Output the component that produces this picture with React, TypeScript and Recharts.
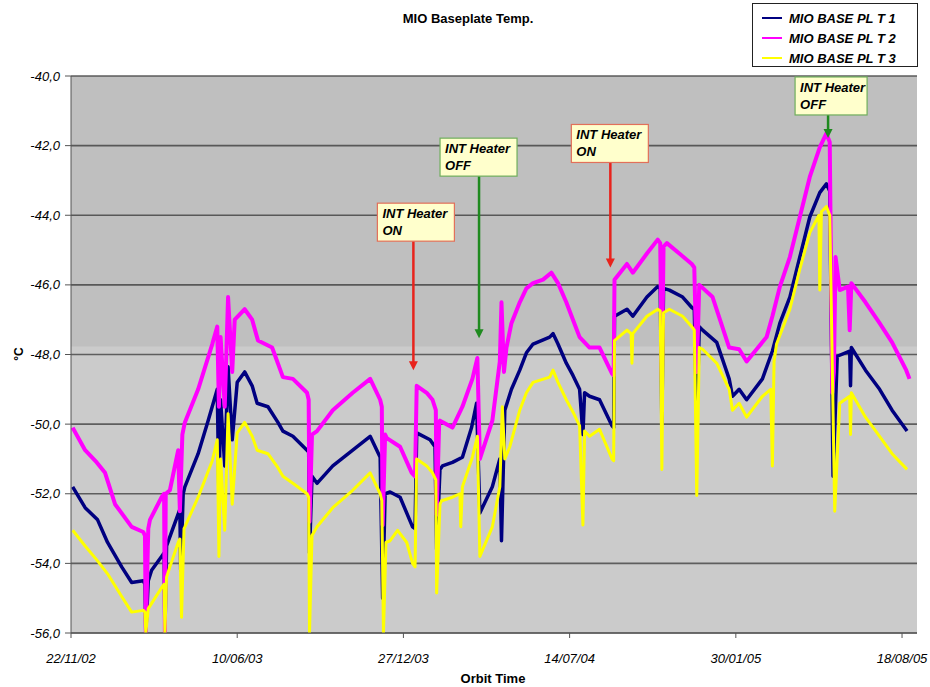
import { LineChart, Line, XAxis, YAxis, CartesianGrid, ReferenceArea, ReferenceDot } from 'recharts'

// days since 22/11/02 on the x axis
const xTicks = [0, 200, 400, 600, 800, 1000]
const xTickLabels = ['22/11/02', '10/06/03', '27/12/03', '14/07/04', '30/01/05', '18/08/05']
const yTicks = [-56, -54, -52, -50, -48, -46, -44, -42, -40]

const seriesNames = ['MIO BASE PL T 1', 'MIO BASE PL T 2', 'MIO BASE PL T 3']
const seriesColors = ['#000080', '#ff00ff', '#ffff00']

// [day, °C]
const t1: [number, number][] = [
  [2, -51.8], [17, -52.4], [32, -52.75], [44, -53.4], [61, -54.1], [73, -54.55], [87, -54.5], [89, -54.6],
  [90, -56], [93, -54.5], [97, -54.2], [109, -53.8], [112, -53.7], [113, -56], [115, -53.5], [121, -53.1],
  [131, -52.45], [132, -54.2], [135, -52.0], [137, -51.8], [153, -50.85], [165, -49.9], [176, -49.0],
  [178, -52.1], [180, -49.3], [185, -51.2], [189, -48.35], [194, -50.45], [200, -48.8], [209, -48.5],
  [218, -48.9], [224, -49.4], [237, -49.5], [249, -49.95], [255, -50.2], [267, -50.35], [284, -50.75],
  [286, -50.8], [287, -53.7], [290, -51.5], [296, -51.7], [315, -51.2], [339, -50.75], [360, -50.35],
  [372, -50.95], [375, -55.0], [378, -52.0], [384, -51.95], [396, -52.1], [411, -52.95], [414, -53.0],
  [416, -50.25], [432, -50.45], [438, -50.65], [440, -53.6], [444, -51.3], [447, -51.2], [459, -51.1],
  [471, -50.95], [482, -50.1], [488, -49.4], [492, -52.55], [507, -51.8], [516, -51.0], [518, -53.35],
  [522, -49.6], [530, -49.0], [540, -48.45], [548, -47.95], [556, -47.7], [576, -47.5], [580, -47.4],
  [586, -47.7], [596, -48.25], [604, -48.6], [612, -49.0],
  [616, -50.3], [618, -49.1], [624, -49.2], [636, -49.3], [651, -50.05], [653, -50.1], [654, -46.9],
  [669, -46.7], [676, -46.9], [693, -46.35], [706, -46.05], [709, -46.1], [711, -50.0], [713, -46.1],
  [720, -46.15], [736, -46.35], [747, -46.65], [750, -46.7], [753, -50.0], [756, -47.2], [760, -47.3],
  [777, -47.65], [792, -48.7], [796, -49.2], [804, -49.0], [813, -49.3], [832, -48.7], [844, -47.9],
  [853, -47.1], [865, -46.35], [877, -45.2], [889, -44.05], [901, -43.35], [909, -43.1], [913, -43.3],
  [917, -51.5], [922, -48.05], [937, -47.9], [938, -48.9], [939, -47.8], [956, -48.45], [973, -49.0],
  [988, -49.6], [1006, -50.2],
]

const t2: [number, number][] = [
  [2, -50.1], [17, -50.75], [31, -51.1], [41, -51.4], [53, -52.3], [73, -52.95], [87, -53.1], [89, -53.2],
  [90, -56], [93, -53.0], [95, -52.75], [109, -52.1], [112, -52.0], [113, -56], [114, -52.0], [119, -51.9],
  [129, -50.75], [131, -52.5], [134, -50.3], [137, -49.95], [153, -49.0], [170, -47.7], [176, -47.2],
  [178, -49.5], [180, -47.5], [185, -49.5], [189, -46.35], [194, -48.5], [197, -47.0], [209, -46.7],
  [218, -47.0], [225, -47.6], [242, -47.8], [255, -48.65], [267, -48.7], [284, -49.1], [286, -49.3],
  [287, -52.8], [290, -50.3], [296, -50.2], [315, -49.6], [339, -49.1], [360, -48.7], [372, -49.3],
  [374, -49.5], [375, -52.9], [378, -50.3], [380, -50.4], [396, -50.65], [410, -51.4], [414, -51.5],
  [416, -48.9], [428, -49.1], [435, -49.3], [439, -49.6], [440, -52.6], [443, -50.0], [444, -49.9],
  [459, -50.1], [471, -49.5], [483, -48.7], [489, -48.1], [492, -51.0], [507, -49.9], [516, -48.2],
  [518, -46.5], [521, -48.5], [524, -47.8], [530, -47.1], [540, -46.5], [548, -46.1], [556, -45.95],
  [568, -45.85], [578, -45.65], [586, -45.95], [596, -46.5], [604, -47.0], [612, -47.5], [624, -47.8],
  [636, -47.8], [651, -48.55], [653, -48.6], [654, -45.85],
  [669, -45.4], [676, -45.65], [693, -45.1], [706, -44.7], [709, -44.8], [711, -48.7], [713, -44.9],
  [717, -44.8], [732, -45.1], [747, -45.4], [750, -45.5], [753, -48.5], [756, -46.0], [772, -46.35],
  [792, -47.8], [804, -47.85], [813, -48.2], [825, -47.85], [837, -47.5], [844, -46.9], [853, -46.05],
  [865, -45.2], [877, -44.05], [889, -42.9], [901, -42.05], [909, -41.65], [913, -41.9], [916, -49.1],
  [918, -48.5], [920, -45.2], [925, -46.15], [935, -46.05], [937, -47.3], [939, -45.95], [956, -46.5],
  [973, -47.1], [988, -47.65], [1005, -48.45], [1009, -48.7],
]

const t3: [number, number][] = [
  [2, -53.05], [17, -53.5], [31, -53.9], [44, -54.3], [61, -54.95], [73, -55.4], [87, -55.35], [89, -55.4],
  [90, -56], [93, -55.3], [97, -55.15], [109, -54.7], [112, -54.6], [113, -56], [115, -54.4], [119, -54.1],
  [129, -53.4], [131, -53.3], [133, -55.55], [136, -53.0], [137, -52.95], [153, -52.1], [170, -51.05],
  [176, -50.45], [178, -53.8], [180, -51.0], [185, -53.05], [189, -49.7], [194, -52.3], [200, -50.25],
  [209, -49.95], [218, -50.35], [224, -50.75], [237, -50.85], [249, -51.25], [255, -51.5], [267, -51.7],
  [284, -52.0], [286, -52.1], [287, -56], [290, -53.2], [296, -52.95], [315, -52.4], [339, -51.9],
  [360, -51.4], [372, -52.0], [374, -52.2], [376, -56], [379, -53.4], [384, -53.35], [393, -53.05],
  [404, -53.4], [411, -54.0], [414, -54.1], [416, -51.0], [428, -51.2], [435, -51.4], [439, -51.6],
  [440, -54.85], [444, -52.3], [446, -52.2], [459, -52.1], [468, -52.0], [469, -52.95], [471, -51.8],
  [483, -50.95], [489, -50.35], [492, -53.8], [507, -52.95], [516, -51.8], [519, -49.5], [522, -51.0],
  [528, -50.65], [540, -49.6], [548, -49.1], [556, -48.8], [576, -48.65], [580, -48.45], [586, -48.8],
  [596, -49.3], [604, -49.65], [612, -50.05],
  [616, -52.9], [618, -50.2], [624, -50.35], [636, -50.15], [651, -51.0], [653, -51.05], [654, -47.6],
  [669, -47.3], [674, -47.4], [675, -48.25], [676, -47.4], [693, -46.9], [706, -46.7], [709, -46.75],
  [711, -51.3], [713, -46.8], [720, -46.7], [736, -46.9], [747, -47.2], [750, -47.3], [753, -52.05],
  [756, -47.8], [760, -47.85], [777, -48.25], [792, -49.0], [796, -49.6], [804, -49.4], [813, -49.8],
  [832, -49.2], [842, -49.0], [844, -51.2], [846, -48.2], [849, -47.7], [865, -46.7], [877, -45.55],
  [889, -44.5], [900, -44.0], [901, -46.15], [903, -43.9], [909, -43.75], [913, -44.0], [919, -52.5],
  [925, -49.4], [937, -49.2], [938, -50.3], [939, -49.1], [956, -49.8], [973, -50.35], [988, -50.85],
  [1006, -51.3],
]

const upperBandFrom = -47.77

const heaterEvents = [
  { day: 412, temp: -48.45, state: 'ON' },
  { day: 491, temp: -47.53, state: 'OFF' },
  { day: 649, temp: -45.5, state: 'ON' },
  { day: 911, temp: -41.78, state: 'OFF' },
]

const series = [t1, t2, t3].map(s => s.map(([d, v]) => ({ d, v })))
const lineWidths = [3.5, 4, 3]

const font = '"Liberation Sans", Arial, sans-serif'

// arrow length / box offset in px, per callout
const calloutStyle = [
  { len: 129, dx: -36, w: 77 },
  { len: 162, dx: -39, w: 77 },
  { len: 105, dx: -39, w: 77 },
  { len: 23, dx: -33, w: 72 },
]

function Callout(props: any) {
  const { cx, cy, state, len, dx, w } = props
  const on = state === 'ON'
  const arrow = on ? '#e8231c' : '#1f8a1f'
  const border = on ? '#e2705a' : '#6fae5c'
  const boxBottom = cy - len
  const boxTop = boxBottom - 38
  return (
    <g>
      <line x1={cx} y1={boxBottom} x2={cx} y2={cy - 8} stroke={arrow} strokeWidth={2.5} />
      <polygon points={`${cx - 4.5},${cy - 9} ${cx + 4.5},${cy - 9} ${cx},${cy}`} fill={arrow} />
      <rect x={cx + dx} y={boxTop} width={w} height={38} fill="#ffffcc" stroke={border} strokeWidth={1.2} />
      <text x={cx + dx + 5} y={boxTop + 15} fontFamily={font} fontSize={13} fontWeight="bold" fontStyle="italic" fill="#000">
        INT Heater
      </text>
      <text x={cx + dx + 5} y={boxTop + 32} fontFamily={font} fontSize={13} fontWeight="bold" fontStyle="italic" fill="#000">
        {state}
      </text>
    </g>
  )
}

const tickStyle = { fontSize: 13, fontStyle: 'italic', fill: '#000', fontFamily: font }

export default function App() {
  return (
    <div style={{ position: 'absolute', left: 0, top: 0, width: 930, height: 687, background: '#fff', fontFamily: font }}>
      <div style={{ position: 'absolute', left: 0, width: 936, top: 11, textAlign: 'center', fontWeight: 'bold', fontSize: 13 }}>
        MIO Baseplate Temp.
      </div>
      <div style={{ position: 'absolute', left: 0, width: 986, top: 671, textAlign: 'center', fontWeight: 'bold', fontSize: 13 }}>
        Orbit Time
      </div>
      <div style={{ position: 'absolute', left: 12, top: 347, transform: 'rotate(-90deg)', fontWeight: 'bold', fontSize: 12 }}>°C</div>

      <LineChart width={930} height={687} margin={{ top: 76, right: 13, bottom: 0, left: 0 }}>
        <CartesianGrid vertical={false} stroke="#5e5e5e" strokeWidth={1.6} fill="#cbcbcb" horizontalValues={yTicks} />
        <ReferenceArea y1={upperBandFrom} y2={-40} fill="#000" fillOpacity={0.06} stroke="none" ifOverflow="hidden" />
        <XAxis
          type="number"
          dataKey="d"
          domain={[0, 1018]}
          ticks={xTicks}
          allowDataOverflow
          tickFormatter={(v: number) => xTickLabels[xTicks.indexOf(v)]}
          tick={tickStyle}
          stroke="#555"
          tickSize={5}
          tickMargin={16}
          height={54}
        />
        <YAxis
          type="number"
          domain={[-56, -40]}
          ticks={yTicks}
          allowDataOverflow
          tickFormatter={(v: number) => v.toFixed(1).replace('.', ',')}
          tick={tickStyle}
          stroke="#555"
          tickSize={6}
          tickMargin={5}
          width={71}
        />
        {series.map((data, i) => (
          <Line
            key={seriesNames[i]}
            data={data}
            dataKey="v"
            name={seriesNames[i]}
            type="linear"
            stroke={seriesColors[i]}
            strokeWidth={lineWidths[i]}
            strokeLinejoin="round"
            dot={false}
            isAnimationActive={false}
          />
        ))}
        {heaterEvents.map((e, i) => (
          <ReferenceDot
            key={i}
            x={e.day}
            y={e.temp}
            r={0}
            shape={(p: any) => <Callout {...p} state={e.state} {...calloutStyle[i]} />}
          />
        ))}
      </LineChart>

      <div
        style={{
          position: 'absolute', left: 752, top: 3, width: 166, height: 64, border: '1px solid #222',
          background: '#fff', boxSizing: 'border-box', paddingTop: 4,
        }}
      >
        {seriesNames.map((n, i) => (
          <div key={n} style={{ display: 'flex', alignItems: 'center', height: 20, fontSize: 13, fontWeight: 'bold', fontStyle: 'italic' }}>
            <span style={{ display: 'inline-block', width: 20, height: 2, background: seriesColors[i], marginLeft: 9, marginRight: 7 }} />
            {n}
          </div>
        ))}
      </div>
    </div>
  )
}
